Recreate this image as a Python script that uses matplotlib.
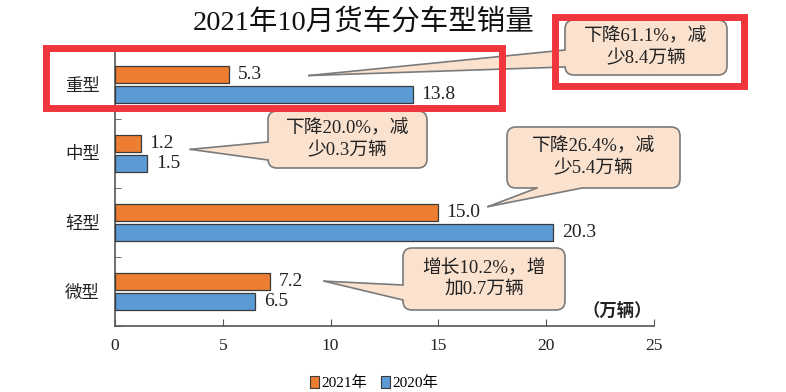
import numpy as np
import matplotlib.pyplot as plt
from matplotlib.patches import FancyBboxPatch, Polygon, Rectangle, Patch
from matplotlib.lines import Line2D
from matplotlib.transforms import IdentityTransform

plt.rcParams['font.family'] = ['Liberation Serif', 'Noto Sans CJK SC']

# -----------------------
# data
# -----------------------
categories = ["重型", "中型", "轻型", "微型"]
sales_2021 = [5.3, 1.2, 15.0, 7.2]
sales_2020 = [13.8, 1.5, 20.3, 6.5]
callout_texts = [
    "下降61.1%，减\n少8.4万辆",
    "下降20.0%，减\n少0.3万辆",
    "下降26.4%，减\n少5.4万辆",
    "增长10.2%，增\n加0.7万辆",
]

# -----------------------
# figure / axes (pixel based layout)
# -----------------------
W, H = 786, 392
fig = plt.figure(figsize=(W / 100, H / 100), dpi=100)
fig.patch.set_facecolor("white")
ax = fig.add_axes([115 / W, 1 - 326 / H, (654 - 115) / W, (326 - 50) / H])

c21 = "#ED7D31"
c20 = "#5B9BD5"
edge = "#3a3a3a"

y = np.arange(len(categories))
bh = 0.25
off = 0.15
ax.barh(y - off, sales_2021, height=bh, color=c21, edgecolor=edge, lw=0.9, zorder=3)
ax.barh(y + off, sales_2020, height=bh, color=c20, edgecolor=edge, lw=0.9, zorder=3)

for yy, v in zip(y, sales_2021):
    ax.text(v + 0.38, yy - off, f"{v:.1f}", va="center", ha="left", fontsize=14, color="#222222")
for yy, v in zip(y, sales_2020):
    ax.text(v + 0.42, yy + off, f"{v:.1f}", va="center", ha="left", fontsize=14, color="#222222")

ax.set_xlim(0, 25)
ax.set_ylim(3.5, -0.5)
ax.set_xticks(range(0, 26, 5))
ax.set_yticks(y, categories)
ax.set_yticks(np.arange(-0.5, 4, 1), minor=True)
ax.tick_params(axis="x", direction="in", length=5, pad=9, labelsize=12.5, colors="#555555", labelcolor="#222222")
ax.tick_params(axis="y", which="major", length=0, pad=11, labelsize=12.5, labelcolor="#222222")
ax.tick_params(axis="y", which="minor", direction="in", length=4, colors="#555555")
for s in ["top", "right"]:
    ax.spines[s].set_visible(False)
for s in ["left", "bottom"]:
    ax.spines[s].set_color("#555555")
    ax.spines[s].set_linewidth(1.2)

ax.text(23.3, 3.5 - 0.2, "（万辆）", ha="center", va="center", fontsize=12.5, fontweight="bold", color="#222222")

fig.text(364 / W, 1 - 22 / H, "2021年10月货车分车型销量", ha="center", va="center", fontsize=20.5, color="#111111")

# -----------------------
# callouts (boxes in pixels, tips from data)
# -----------------------
boxes = [(565, 20, 727, 75), (268, 111, 427, 168), (507, 127, 680, 188), (403, 248, 565, 310)]
tips = [(9.0, 0 - off + 0.02), (3.5, 1 - 0.06), (17.3, 2 - off - 0.08), (9.7, 3 - off)]
bases = [
    ("left", 50, 67),
    ("left", 142, 160),
    ("bottom", 537, 582),
    ("left", 285, 300),
]
fc_box = "#FBE2CF"
ec_box = "#7a7a7a"
ident = IdentityTransform()

for (x0, y0, x1, y1), tip, base, txt in zip(boxes, tips, bases, callout_texts):
    bx = FancyBboxPatch((x0, H - y1), x1 - x0, y1 - y0,
                        boxstyle="round,pad=0,rounding_size=9",
                        fc=fc_box, ec=ec_box, lw=1.2, transform=ident, zorder=5)
    fig.add_artist(bx)
    tx, ty = ax.transData.transform(tip)
    side, a, b = base
    if side == "left":
        p1, p2 = (x0, H - a), (x0, H - b)
        p1i, p2i = (x0 + 3, H - a), (x0 + 3, H - b)
    else:
        p1, p2 = (a, H - y1), (b, H - y1)
        p1i, p2i = (a, H - y1 + 3), (b, H - y1 + 3)
    wedge = Polygon([(tx, ty), p1, p1i, p2i, p2], closed=True, fc=fc_box, ec="none",
                    transform=ident, zorder=6)
    fig.add_artist(wedge)
    for p in (p1, p2):
        fig.add_artist(Line2D([tx, p[0]], [ty, p[1]], color=ec_box, lw=1.2,
                              transform=ident, zorder=7))
    fig.text((x0 + x1) / 2 / W, 1 - (y0 + y1) / 2 / H, txt, ha="center", va="center",
             fontsize=13.5, linespacing=1.3, color="#222222", zorder=8)

# -----------------------
# legend (at bottom edge)
# -----------------------
handles = [Patch(fc=c21, ec=edge, lw=0.8), Patch(fc=c20, ec=edge, lw=0.8)]
fig.legend(handles, ["2021年", "2020年"], loc="upper center", bbox_to_anchor=(374 / W, 1 - 368 / H),
           ncol=2, frameon=False, fontsize=11, handlelength=0.6, handleheight=0.9,
           handletextpad=0.15, columnspacing=0.9, borderpad=0)

# -----------------------
# red highlight rectangles
# -----------------------
for (x0, y0, x1, y1) in [(46, 48, 502, 108), (555, 17, 744, 86)]:
    fig.add_artist(Rectangle((x0, H - y1), x1 - x0, y1 - y0, fill=False, ec="#F0353D",
                             lw=5, transform=ident, zorder=10))

fig.savefig("out.png", dpi=100)
